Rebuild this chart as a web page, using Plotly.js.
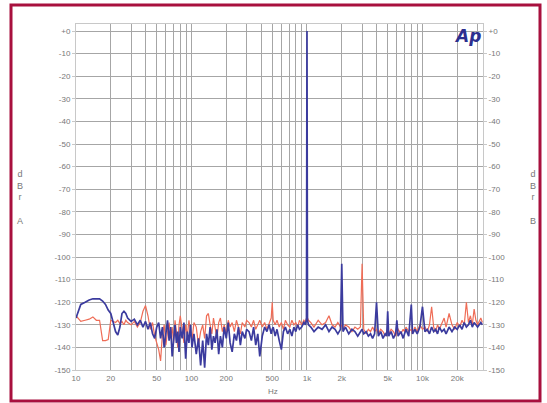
<!DOCTYPE html>
<html>
<head>
<meta charset="utf-8">
<script src="https://cdn.plot.ly/plotly-3.0.1.min.js"></script>
<style>html,body{margin:0;padding:0;background:#fff;}#chart{width:547px;height:403px;}</style>
</head>
<body>
<div id="chart"></div>
<script>
// Frequency points (Hz)
const freqHz = [
 10,11,12,13,14,15,16,17,18,19,20,21,22,23,24,25,26,27,28,30,32,34,36,38,40,42,44,46,48,50,
 52,54,56,58,60,62,64,66,68,70,72,74,76,78,80,83,86,89,92,95,98,101,105,110,115,120,125,130,135,140,
 145,150,155,160,166,172,178,185,192,200,208,216,225,235,245,255,265,275,290,300,
 315,330,345,360,375,390,410,430,450,470,490,500,510,530,550,575,600,625,650,680,710,740,770,800,830,860,900,940,970,990,1000,1010,1030,
 1080,1150,1250,1350,1450,1550,1650,1750,1850,1950,2000,2050,2150,2300,2450,2600,2750,2900,3000,3100,3250,3400,3550,3700,3850,
 4000,4150,4350,4550,4750,4900,5000,5100,5350,5600,5850,6000,6150,6500,6800,7000,7200,7600,8000,8200,8600,9000,9500,
 10000,10500,11000,11500,12000,12500,13000,13500,14000,14700,15400,16000,17000,18000,19000,20000,21000,22000,23000,24000,25000,26000,27000,28000,29000,30000,32000,33000
];
// Channel A (blue), dBr
const blueDb = [
 -127,-121,-120,-119,-118.5,-118.5,-118.5,-119.5,-121,-123.5,-125,-129,-133,-134.5,-131,-125,-124,-125,-127,-128.5,-127.5,-130,-128,-131,-128.5,-132,-129,-134,-136,-131,
 -129,-136,-131,-140,-133,-128,-137,-131,-144,-135,-130,-138,-133,-142,-131,-136,-129,-145,-133,-138,-130,-140,-134,-143,-136,-148,-137,-149,-134,-139,
 -131,-141,-135,-138,-132,-143,-135,-140,-131,-136,-129,-138,-142,-134,-137,-131,-139,-133,-136,-132,
 -133,-137,-131,-139,-134,-144,-135,-131,-133,-130,-134,-132,-131,-135,-132,-137,-141,-133,-131,-134,-132,-135,-131,-133,-130,-132,-131,-129,-130,-127,0,-128,-130,
 -131,-133,-131,-132,-130,-133,-131,-132,-134,-132,-103,-133,-131,-134,-132,-133,-135,-133,-132,-134,-133,-135,-134,-136,-134,
 -120,-135,-133,-136,-134,-135,-124,-135,-133,-136,-134,-128,-135,-133,-136,-134,-132,-135,-121,-134,-132,-134,-131,
 -122,-133,-132,-134,-131,-133,-132,-134,-131,-133,-132,-134,-131,-133,-131,-132,-130,-132,-129,-131,-130,-128,-131,-129,-130,-131,-129,-130
];
// Channel B (red), dBr
const redDb = [
 -126,-128.5,-128,-127.5,-126.5,-128,-128,-137,-137,-136.5,-128,-128.5,-129,-128,-129.5,-128.5,-130,-128,-129,-130,-128.5,-131,-129,-124,-121.5,-126,-132,-129,-135,-138,
 -141,-146,-134,-130,-139,-133,-129,-136,-131,-138,-128,-133,-140,-130,-126,-132,-138,-130,-135,-128,-133,-137,-129,-131,-139,-133,-130,-136,-126,-125,
 -130,-134,-127,-132,-136,-129,-127,-133,-130,-134,-128,-131,-129,-133,-128,-131,-134,-129,-131,-128,
 -129,-131,-128,-132,-130,-128,-131,-129,-132,-129,-127,-120,-128,-130,-128,-131,-129,-132,-128,-130,-131,-128,-130,-129,-131,-128,-130,-128,-129,-127,-126,-127,-128,
 -129,-131,-128,-130,-129,-126,-130,-131,-129,-131,-130,-132,-130,-131,-133,-131,-132,-131,-103,-132,-134,-132,-133,-131,-133,
 -132,-134,-132,-133,-135,-133,-132,-134,-132,-133,-135,-133,-132,-134,-132,-133,-131,-133,-132,-134,-131,-133,-130,
 -132,-131,-133,-130,-122,-131,-133,-130,-132,-129,-127,-131,-125,-130,-132,-129,-131,-128,-130,-120,-129,-126,-130,-123,-128,-130,-127,-129
];
// Axis ticks
const xTickVals = [10,20,50,100,200,500,1000,2000,5000,10000,20000];
const xTickText = ["10","20","50","100","200","500","1k","2k","5k","10k","20k"];
const xMinorVals = [30,40,60,70,80,90,300,400,600,700,800,900,3000,4000,6000,7000,8000,9000,30000];
const yTickVals = [0,-10,-20,-30,-40,-50,-60,-70,-80,-90,-100,-110,-120,-130,-140,-150];
const yTickText = ["+0","-10","-20","-30","-40","-50","-60","-70","-80","-90","-100","-110","-120","-130","-140","-150"];

// layout geometry (pixels)
const W = 547, H = 403, L = 76, R = 64, T = 24, B = 33;
const pw = W - L - R, ph = H - T - B;
const px = x => (x - L) / pw;
const py = y => (H - B - y) / ph;

const gridCol = '#a6a6a6';
const tickFont = {family: 'Liberation Sans, Arial, sans-serif', size: 8, color: '#777'};
const ann = (text, x, y, font) => ({text, xref: 'paper', yref: 'paper', x: px(x), y: py(y),
  xanchor: 'center', yanchor: 'middle', showarrow: false, font});

const traces = [
  {x: freqHz, y: redDb, type: 'scatter', mode: 'lines', yaxis: 'y',
   line: {color: '#ef6c56', width: 1.2}, hoverinfo: 'skip'},
  {x: freqHz, y: blueDb, type: 'scatter', mode: 'lines', yaxis: 'y2',
   line: {color: '#3b3b9e', width: 1.7}, hoverinfo: 'skip'}
];

const layout = {
  width: W, height: H,
  margin: {l: L, r: R, t: T, b: B, pad: 0},
  paper_bgcolor: '#fff', plot_bgcolor: '#fff',
  showlegend: false,
  xaxis: {
    type: 'log', range: [1, 4.524],
    tickmode: 'array', tickvals: xTickVals, ticktext: xTickText,
    showgrid: true, gridcolor: gridCol, gridwidth: 1,
    minor: {tickmode: 'array', tickvals: xMinorVals, showgrid: true, gridcolor: gridCol, gridwidth: 1, ticks: ''},
    ticks: '', tickfont: tickFont, zeroline: false,
    showline: true, linecolor: '#c8c8c8', linewidth: 1, mirror: true
  },
  yaxis: {
    range: [-150, 3.1],
    tickmode: 'array', tickvals: yTickVals, ticktext: yTickText,
    showgrid: true, gridcolor: gridCol, gridwidth: 1,
    ticks: 'outside', ticklen: 3, tickcolor: '#c8c8c8',
    tickfont: tickFont, zeroline: false,
    showline: true, linecolor: '#c8c8c8', linewidth: 1
  },
  yaxis2: {
    overlaying: 'y', side: 'right', range: [-150, 3.1],
    tickmode: 'array', tickvals: yTickVals, ticktext: yTickText,
    showgrid: false, ticks: 'outside', ticklen: 3, tickcolor: '#c8c8c8',
    tickfont: tickFont, zeroline: false,
    showline: true, linecolor: '#c8c8c8', linewidth: 1
  },
  shapes: [
    {type: 'rect', xref: 'paper', yref: 'paper',
     x0: px(11), x1: px(540), y0: py(401), y1: py(5),
     line: {color: '#a8103e', width: 3}, fillcolor: 'rgba(0,0,0,0)', layer: 'above'}
  ],
  annotations: [
    ann('<b><i>Ap</i></b>', 467, 36, {family: 'DejaVu Sans, sans-serif', size: 17, color: '#2c2f8f'}),
    ann('Hz', 273, 392, {family: 'Liberation Sans, Arial, sans-serif', size: 8, color: '#777'}),
    ann('d<br>B<br>r<br> <br>A', 20, 197, {family: 'Liberation Sans, Arial, sans-serif', size: 9, color: '#777'}),
    ann('d<br>B<br>r<br> <br>B', 533, 197, {family: 'Liberation Sans, Arial, sans-serif', size: 9, color: '#777'})
  ]
};

Plotly.newPlot('chart', traces, layout, {staticPlot: true, displayModeBar: false});
</script>
</body>
</html>
